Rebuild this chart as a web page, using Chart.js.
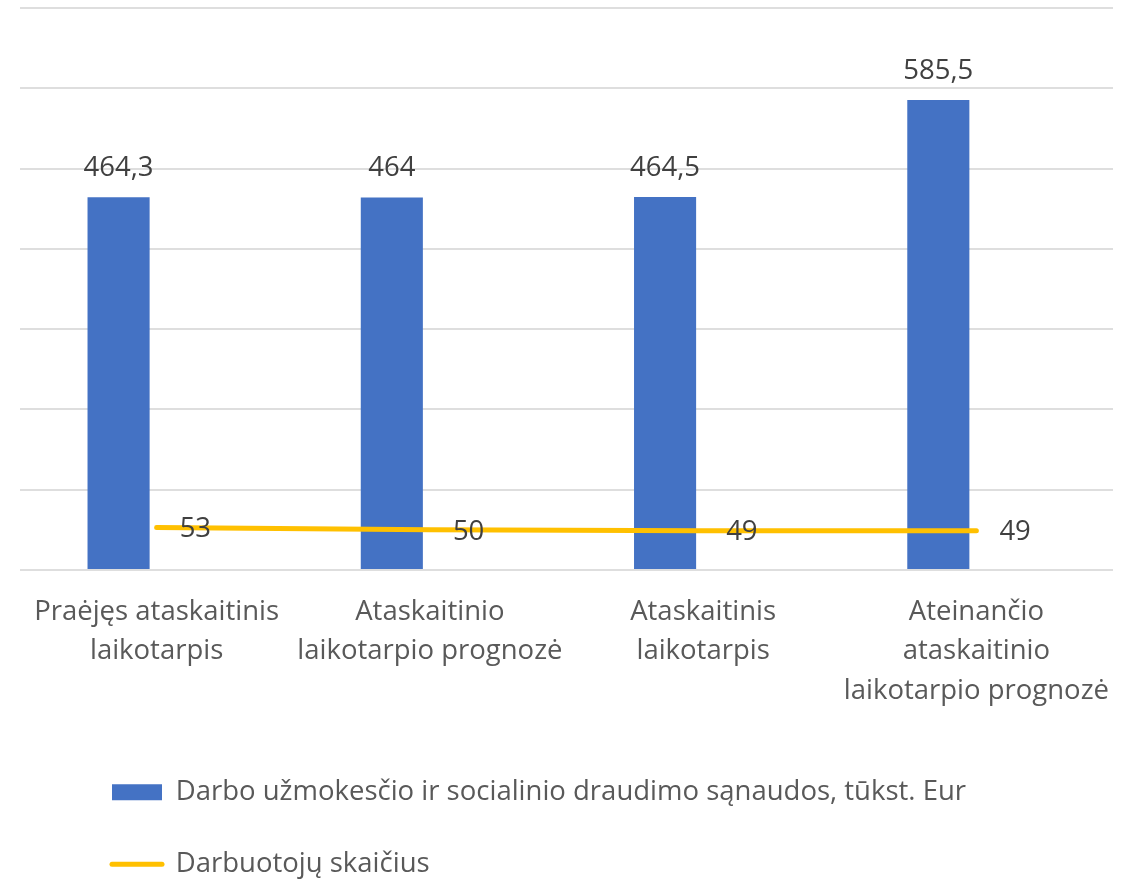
<!DOCTYPE html>
<html>
<head>
<meta charset="utf-8">
<script src="https://cdn.jsdelivr.net/npm/chart.js@4"></script>
<style>
  body { margin: 0; background: #fff; }
</style>
</head>
<body>
<canvas id="chart" width="1137" height="882"></canvas>
<script>
const categories = [
    ['Praėjęs ataskaitinis', 'laikotarpis'],
    ['Ataskaitinio', 'laikotarpio prognozė'],
    ['Ataskaitinis', 'laikotarpis'],
    ['Ateinančio', 'ataskaitinio', 'laikotarpio prognozė']
];
const costLabel = 'Darbo užmokesčio ir socialinio draudimo sąnaudos, tūkst. Eur';
const costValues = [464.3, 464, 464.5, 585.5];
const staffLabel = 'Darbuotojų skaičius';
const staffValues = [53, 50, 49, 49];
const yTicks = [0, 100, 200, 300, 400, 500, 600, 700];

const FONT = '"Open Sans", "Noto Sans", sans-serif';
const FONT_SIZE = 27.5;

// skaičių etiketės virš stulpelių ir šalia linijos
const valueLabels = {
    id: 'valueLabels',
    afterDatasetsDraw(chart) {
        const ctx = chart.ctx;
        ctx.save();
        ctx.font = FONT_SIZE + 'px ' + FONT;
        ctx.fillStyle = '#404040';
        ctx.textBaseline = 'middle';
        chart.data.datasets.forEach((ds, i) => {
            if (!ds.label) return;
            const meta = chart.getDatasetMeta(i);
            meta.data.forEach((el, j) => {
                const v = ds.data[j];
                if (v == null) return;
                const text = String(v).replace('.', ',');
                if (meta.type === 'bar') {
                    ctx.textAlign = 'center';
                    ctx.fillText(text, el.x, el.y - 29);
                } else {
                    ctx.textAlign = 'left';
                    ctx.fillText(text, el.x + 23, el.y + 2);
                }
            });
        });
        ctx.restore();
    }
};

// legenda kairėje, kaip Excel
const legendShift = {
    id: 'legendShift',
    afterLayout(chart) {
        const lg = chart.legend;
        lg.left = 112 - lg.options.labels.padding;
        lg.top += 6;
    }
};

const ctx = document.getElementById('chart').getContext('2d');
const chart = new Chart(ctx, {
    type: 'bar',
    data: {
        labels: categories,
        datasets: [{
            type: 'bar',
            label: costLabel,
            data: costValues,
            backgroundColor: '#4472C4',
            borderWidth: 0,
            categoryPercentage: 0.557,
            barPercentage: 0.816,
            order: 1
        }, {
            type: 'bar',
            label: '',
            data: costValues.map(() => null),
            backgroundColor: 'transparent',
            categoryPercentage: 0.557,
            barPercentage: 0.816,
            order: 2
        }, {
            type: 'line',
            label: staffLabel,
            data: staffValues,
            borderColor: '#FFC000',
            backgroundColor: '#FFC000',
            borderWidth: 5,
            borderCapStyle: 'round',
            pointRadius: 0,
            tension: 0,
            order: 0
        }]
    },
    options: {
        responsive: false,
        animation: false,
        layout: {
            padding: { left: 20, right: 24, top: 8, bottom: 0 }
        },
        plugins: {
            tooltip: { enabled: false },
            legend: {
                position: 'bottom',
                align: 'start',
                labels: {
                    font: { family: FONT, size: FONT_SIZE },
                    color: '#595959',
                    padding: 44.5,
                    usePointStyle: true,
                    pointStyleWidth: 50,
                    boxHeight: 16,
                    filter: (item) => item.text !== '',
                    sort: (a, b) => a.datasetIndex - b.datasetIndex,
                    generateLabels(chart) {
                        const items = Chart.defaults.plugins.legend.labels.generateLabels(chart);
                        items.forEach(it => {
                            const ds = chart.data.datasets[it.datasetIndex];
                            if (ds.type === 'line') {
                                it.pointStyle = 'line';
                                it.lineWidth = 5;
                                it.lineCap = 'round';
                            } else {
                                it.pointStyle = 'rect';
                                it.lineWidth = 0;
                            }
                        });
                        return items;
                    }
                }
            }
        },
        scales: {
            x: {
                grid: { display: false },
                border: { display: false },
                afterFit(scale) { scale.height = 158; },
                ticks: {
                    autoSkip: false,
                    maxRotation: 0,
                    padding: 14,
                    color: '#595959',
                    font: { family: FONT, size: FONT_SIZE, lineHeight: 1.44 }
                }
            },
            y: {
                min: yTicks[0],
                max: yTicks[yTicks.length - 1],
                afterBuildTicks(scale) { scale.ticks = yTicks.map(v => ({ value: v })); },
                ticks: { display: false },
                grid: { color: '#dedede', lineWidth: 2, drawTicks: false },
                border: { display: false }
            }
        }
    },
    plugins: [valueLabels, legendShift]
});
</script>
</body>
</html>
